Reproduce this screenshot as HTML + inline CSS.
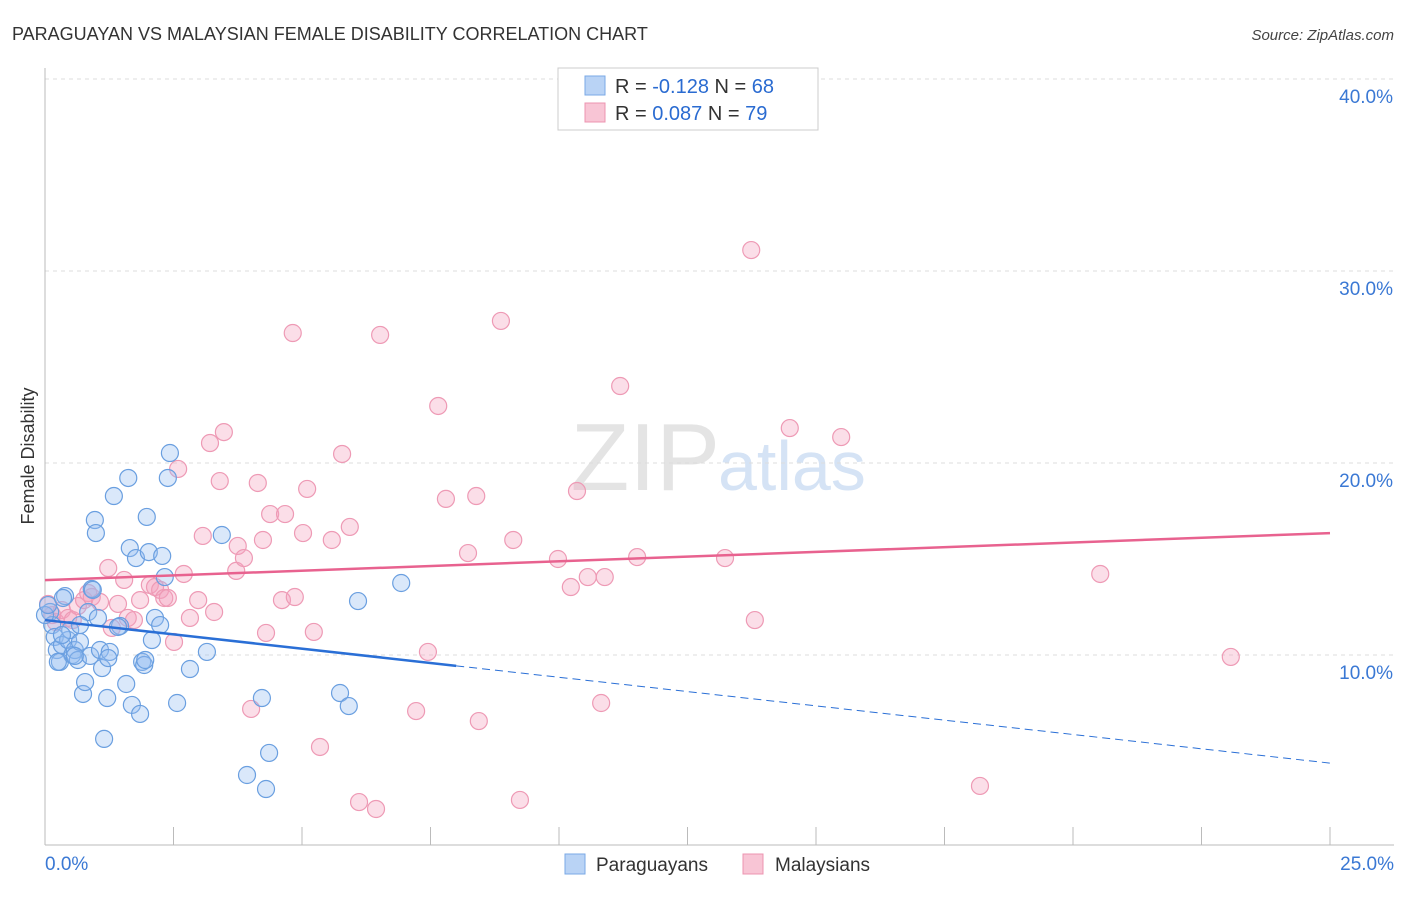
<!DOCTYPE html>
<html><head><meta charset="utf-8">
<style>
body{margin:0;background:#fff;font-family:"Liberation Sans",sans-serif;}
svg text{font-family:"Liberation Sans",sans-serif;}
</style></head>
<body>
<svg id="chart" width="1406" height="892" xmlns="http://www.w3.org/2000/svg">
<text x="12" y="40" font-size="18" fill="#333">PARAGUAYAN VS MALAYSIAN FEMALE DISABILITY CORRELATION CHART</text>
<text x="1394" y="40" font-size="15" fill="#444" text-anchor="end" font-style="italic">Source: ZipAtlas.com</text>
<text x="720" y="490" font-size="96" fill="#e4e4e4" text-anchor="end" font-family="Liberation Serif">ZIP</text>
<text x="718" y="490" font-size="70" fill="#d5e3f5">atlas</text>
<text transform="translate(34,456) rotate(-90)" font-size="18" fill="#333" text-anchor="middle">Female Disability</text>
<g id="grid"></g>
<g id="axes"></g>
<g id="pinkPts"></g>
<g id="bluePts"></g>
<g id="trends"></g>
<g>
<rect x="558" y="68" width="260" height="62" fill="#fff" stroke="#ccc"/>
<rect x="585" y="76" width="20" height="19" fill="#b9d3f5" stroke="#7aa8e6"/>
<rect x="585" y="103" width="20" height="19" fill="#f8c5d5" stroke="#ec94b0"/>
<text x="615" y="93" font-size="20" fill="#333">R = <tspan fill="#2a6bd1">-0.128</tspan>   N = <tspan fill="#2a6bd1">68</tspan></text>
<text x="615" y="120" font-size="20" fill="#333">R =  <tspan fill="#2a6bd1">0.087</tspan>   N = <tspan fill="#2a6bd1">79</tspan></text>
</g>
<g>
<rect x="565" y="854" width="20" height="20" fill="#b9d3f5" stroke="#7aa8e6"/>
<text x="596" y="871" font-size="19" fill="#333">Paraguayans</text>
<rect x="743" y="854" width="20" height="20" fill="#f8c5d5" stroke="#ec94b0"/>
<text x="775" y="871" font-size="19" fill="#333">Malaysians</text>
</g>
</svg>
<script>
const blueX=[0.10,0.14,0.19,0.23,0.29,0.33,0.39,0.45,0.49,0.53,0.58,0.64,0.68,0.74,0.78,0.84,0.88,0.91,0.97,0.99,1.03,1.07,1.11,1.15,1.21,1.26,1.34,1.46,1.58,1.62,1.65,1.69,1.77,1.85,1.89,1.93,1.98,2.02,2.08,2.14,2.24,2.28,2.33,2.39,2.43,2.57,2.82,3.15,3.44,3.93,4.22,4.30,4.36,5.74,5.91,6.09,6.93,0,0.06,0.25,0.35,0.58,0.93,1.42,1.95,0.68,1.23,0.33];
const blueY=[12.24,11.56,10.94,10.26,9.64,10.52,13.07,10.78,11.30,10.0,10.26,9.74,10.68,7.97,8.59,12.24,9.95,13.44,17.03,16.35,11.93,10.26,9.32,5.63,7.76,10.16,18.28,11.51,8.49,19.22,15.57,7.40,15.05,6.93,9.64,9.48,17.19,15.36,10.78,11.93,11.56,15.16,14.06,19.22,20.52,7.50,9.27,10.16,16.25,3.75,7.76,3.02,4.90,8.02,7.34,12.81,13.75,12.08,12.60,9.64,12.97,9.95,13.39,11.46,9.74,11.56,9.84,11.04];
const pinkX=[0.06,0.14,0.21,0.33,0.45,0.54,0.64,0.76,0.84,0.91,1.07,1.23,1.30,1.42,1.54,1.61,1.73,1.85,2.04,2.14,2.24,2.32,2.39,2.51,2.59,2.70,2.82,2.98,3.07,3.21,3.29,3.40,3.48,3.72,3.75,3.87,4.01,4.14,4.24,4.30,4.38,4.61,4.67,4.82,4.86,5.02,5.10,5.23,5.35,5.58,5.78,5.93,6.11,6.44,6.52,7.22,7.45,7.65,7.80,8.23,8.39,8.44,8.87,9.11,9.24,9.98,10.23,10.35,10.56,10.82,10.89,11.19,11.52,13.23,13.74,13.81,14.49,15.49,18.19,20.53,23.07];
const pinkY=[12.66,12.08,11.72,12.34,11.93,11.82,12.55,12.86,13.23,13.02,12.76,14.53,11.41,12.66,13.91,11.93,11.82,12.86,13.65,13.54,13.39,12.97,12.97,10.68,19.69,14.22,11.93,12.86,16.20,21.04,12.24,19.06,21.61,14.38,15.68,15.05,7.19,18.96,15.99,11.15,17.34,12.86,17.34,26.77,13.02,16.35,18.65,11.20,5.21,15.99,20.47,16.67,2.34,1.98,26.67,7.08,10.16,22.97,18.13,15.31,18.28,6.56,27.40,15.99,2.45,15.0,13.54,18.54,14.06,7.50,14.06,24.01,15.10,15.05,31.09,11.82,21.82,21.35,3.18,14.22,9.90];
const blueTrend=[11.82,-0.298];   // intercept, slope
const pinkTrend=[13.9,0.098];
const blueSolidEnd=8.0;
const xTicks=[0,2.5,5,7.5,10,12.5,15,17.5,20,22.5,25];
const yTicks=[10,20,30,40];
const yTickLabels=["10.0%","20.0%","30.0%","40.0%"];

const NS="http://www.w3.org/2000/svg";
const X0=45,X1=1330,Y0=847,PX=19.2;
const sx=v=>X0+(X1-X0)*v/25;
const sy=v=>Y0-v*PX;
function mk(tag,attrs,parent){const e=document.createElementNS(NS,tag);for(const k in attrs)e.setAttribute(k,attrs[k]);parent.appendChild(e);return e;}
const grid=document.getElementById('grid'),axes=document.getElementById('axes');
yTicks.forEach((t,i)=>{
  const l=mk('line',{x1:X0,x2:1394,y1:sy(t),y2:sy(t),stroke:'#ddd','stroke-dasharray':'4,4'},grid);
  
  
  const tx=mk('text',{x:1393,y:sy(t)+24,'font-size':19,fill:'#3a78d4','text-anchor':'end'},axes);
  tx.textContent=yTickLabels[i];
  
  
});
const ax=mk('line',{x1:X0,x2:1394,y1:845,y2:845,stroke:'#bbb'},axes);


const ay=mk('line',{x1:X0,x2:X0,y1:68,y2:845,stroke:'#bbb'},axes);


xTicks.forEach(t=>{
  const l=mk('line',{x1:sx(t),x2:sx(t),y1:827,y2:845,stroke:'#bbb'},axes);
  
  
});
const xl=mk('text',{x:45,y:870,'font-size':19,fill:'#3a78d4'},axes);xl.textContent='0.0%';


const xr=mk('text',{x:1394,y:870,'font-size':19,fill:'#3a78d4','text-anchor':'end'},axes);xr.textContent='25.0%';


const pg=document.getElementById('pinkPts');
pinkX.forEach((x,i)=>{const c=mk('circle',{cx:sx(x),cy:sy(pinkY[i]),r:8.5,fill:'rgba(244,160,188,0.35)',stroke:'#ee9ab5','stroke-width':1.2},pg);

});
const bg=document.getElementById('bluePts');
blueX.forEach((x,i)=>{const c=mk('circle',{cx:sx(x),cy:sy(blueY[i]),r:8.5,fill:'rgba(150,190,240,0.35)',stroke:'#6a9fe0','stroke-width':1.2},bg);

});
const tg=document.getElementById('trends');
const f=(t,x)=>t[0]+t[1]*x;
const pl=mk('line',{x1:sx(0),y1:sy(f(pinkTrend,0)),x2:sx(25),y2:sy(f(pinkTrend,25)),stroke:'#e8628f','stroke-width':2.5},tg);


const bl=mk('line',{x1:sx(0),y1:sy(f(blueTrend,0)),x2:sx(blueSolidEnd),y2:sy(f(blueTrend,blueSolidEnd)),stroke:'#2a6fd6','stroke-width':2.5},tg);


const bd=mk('line',{x1:sx(blueSolidEnd),y1:sy(f(blueTrend,blueSolidEnd)),x2:sx(25),y2:sy(f(blueTrend,25)),stroke:'#2a6fd6','stroke-width':1,'stroke-dasharray':'8,5'},tg);


</script>
</body></html>
